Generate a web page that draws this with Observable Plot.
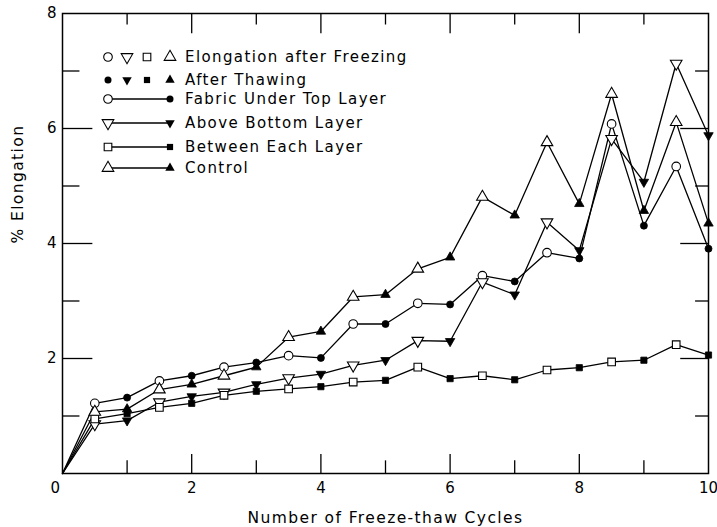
<!DOCTYPE html>
<html><head><meta charset="utf-8">
<script src="https://cdn.jsdelivr.net/npm/d3@7"></script>
<script src="https://cdn.jsdelivr.net/npm/@observablehq/plot@0.6"></script>
<style>
body{margin:0;background:#fff;}
#chart svg text{letter-spacing:1.4px;}
#chart svg g[aria-label="x-axis tick label"] text,
#chart svg g[aria-label="y-axis tick label"] text{letter-spacing:0;}
</style></head><body><div id="chart"></div>
<script>
// ---- data ----
const cycles        = [0, 0.5, 1, 1.5, 2, 2.5, 3, 3.5, 4, 4.5, 5, 5.5, 6, 6.5, 7, 7.5, 8, 8.5, 9, 9.5, 10];
const fabricTop     = [0, 1.22, 1.32, 1.61, 1.70, 1.85, 1.93, 2.05, 2.01, 2.60, 2.60, 2.96, 2.94, 3.44, 3.34, 3.84, 3.74, 6.08, 4.31, 5.34, 3.91];
const aboveBottom   = [0, 0.86, 0.92, 1.24, 1.34, 1.41, 1.55, 1.66, 1.73, 1.88, 1.97, 2.31, 2.30, 3.33, 3.11, 4.37, 3.88, 5.82, 5.07, 7.13, 5.88];
const betweenLayers = [0, 0.95, 1.04, 1.15, 1.22, 1.36, 1.43, 1.47, 1.51, 1.59, 1.62, 1.85, 1.65, 1.70, 1.63, 1.80, 1.84, 1.94, 1.97, 2.24, 2.06];
const control       = [0, 1.07, 1.12, 1.46, 1.55, 1.70, 1.85, 2.37, 2.47, 3.07, 3.11, 3.56, 3.76, 4.81, 4.49, 5.76, 4.69, 6.60, 4.57, 6.11, 4.35];
const seriesNames   = ["Fabric Under Top Layer", "Above Bottom Layer", "Between Each Layer", "Control"];
const xTickLabels   = [2, 4, 6, 8, 10];
const yTickLabels   = [2, 4, 6, 8];
const xTickMarks    = [1, 2, 3, 4, 5, 6, 7, 8, 9];
const yTickMarks    = [1, 2, 3, 4, 5, 6, 7];
const xLabel = "Number of Freeze-thaw Cycles";
const yLabel = "% Elongation";
const legendFreeze = "Elongation after Freezing";
const legendThaw = "After Thawing";

// ---- symbols ----
const triangleDown = {
  draw(context, size) {
    const y = -Math.sqrt(size / (Math.sqrt(3) * 3));
    context.moveTo(0, -y * 2);
    context.lineTo(-Math.sqrt(3) * y, y);
    context.lineTo(Math.sqrt(3) * y, y);
    context.closePath();
  }
};
const symbols = [d3.symbolCircle, triangleDown, d3.symbolSquare, d3.symbolTriangle];
const values = [fabricTop, aboveBottom, betweenLayers, control];

const table = [];
seriesNames.forEach((name, i) => cycles.forEach((x, j) => table.push({series: name, si: i, x, y: values[i][j]})));

const font = "DejaVu Sans";
const dotMarks = [];
seriesNames.forEach((name, i) => {
  dotMarks.push(Plot.dot(table.filter(d => d.si === i && d.x % 1 === 0.5), {
    x: "x", y: "y", symbol: symbols[i], r: 4.3, fill: "white", stroke: "black", strokeWidth: 1.1
  }));
  dotMarks.push(Plot.dot(table.filter(d => d.si === i && d.x % 1 === 0 && d.x > 0), {
    x: "x", y: "y", symbol: symbols[i], r: 3.5, fill: "black", stroke: "black", strokeWidth: 0.8
  }));
});

const chart = Plot.plot({
  width: 717, height: 527,
  marginLeft: 62, marginRight: 9, marginTop: 13, marginBottom: 54,
  style: {fontFamily: font, fontSize: "16px", color: "black", background: "white"},
  x: {domain: [0, 10]},
  y: {domain: [0, 8]},
  marks: [
    // inward ticks
    Plot.ruleX(xTickMarks, {x: d => d, y1: 0, y2: d => d % 2 === 0 ? 0.33 : 0.22, stroke: "black", strokeWidth: 1.3}),
    Plot.ruleX(xTickMarks, {x: d => d, y1: 8, y2: d => 8 - (d % 2 === 0 ? 0.35 : 0.2), stroke: "black", strokeWidth: 1.3}),
    Plot.ruleY(yTickMarks, {y: d => d, x1: 0, x2: d => d % 2 === 0 ? 0.47 : 0.27, stroke: "black", strokeWidth: 1.3}),
    Plot.ruleY(yTickMarks, {y: d => d, x1: 10, x2: d => 10 - (d % 2 === 0 ? 0.43 : 0.2), stroke: "black", strokeWidth: 1.3}),
    Plot.frame({stroke: "black", strokeWidth: 1.5}),
    Plot.axisX({ticks: xTickLabels, tickSize: 0, tickPadding: 9, fontSize: 15, label: null}),
    Plot.axisY({ticks: yTickLabels, tickSize: 0, tickPadding: 6, fontSize: 15, label: null}),
    Plot.text(["0"], {text: d => d, frameAnchor: "bottom-left", dx: -12, dy: 15, fontSize: 15, lineAnchor: "middle"}),
    Plot.text([xLabel], {text: d => d, frameAnchor: "bottom", dy: 45, fontSize: 15.5, lineAnchor: "middle"}),
    Plot.text([yLabel], {text: d => d, frameAnchor: "left", dx: -44, rotate: -90, fontSize: 15.5, lineAnchor: "middle"}),
    Plot.line(table, {x: "x", y: "y", z: "series", stroke: "black", strokeWidth: 1.3}),
    ...dotMarks
  ]
});
document.getElementById("chart").appendChild(chart);

// ---- legend (inside plot, top-left) ----
const svg = d3.select(chart);
const lg = svg.append("g").attr("font-family", font).attr("font-size", 15).attr("fill", "black").attr("text-anchor", "start");
const symX = [108, 127, 147, 170];
const sizeOpen = Math.PI * 4.3 * 4.3, sizeFill = Math.PI * 3.5 * 3.5;
const row1 = 57, row2 = 80, rows = [99, 123, 147, 168];
symbols.forEach((s, i) => {
  lg.append("path").attr("d", d3.symbol(s, sizeOpen)()).attr("transform", `translate(${symX[i]},${row1})`)
    .attr("fill", "white").attr("stroke", "black").attr("stroke-width", 1.1);
  lg.append("path").attr("d", d3.symbol(s, sizeFill)()).attr("transform", `translate(${symX[i]},${row2})`)
    .attr("fill", "black");
});
lg.append("text").attr("x", 185).attr("y", row1).attr("dy", "0.35em").text(legendFreeze);
lg.append("text").attr("x", 185).attr("y", row2).attr("dy", "0.35em").text(legendThaw);
seriesNames.forEach((name, i) => {
  const y = rows[i];
  lg.append("line").attr("x1", 108).attr("x2", 170).attr("y1", y).attr("y2", y).attr("stroke", "black").attr("stroke-width", 1.3);
  lg.append("path").attr("d", d3.symbol(symbols[i], sizeOpen)()).attr("transform", `translate(108,${y})`)
    .attr("fill", "white").attr("stroke", "black").attr("stroke-width", 1.1);
  lg.append("path").attr("d", d3.symbol(symbols[i], sizeFill)()).attr("transform", `translate(170,${y})`)
    .attr("fill", "black");
  lg.append("text").attr("x", 185).attr("y", y).attr("dy", "0.35em").text(name);
});
</script></body></html>
